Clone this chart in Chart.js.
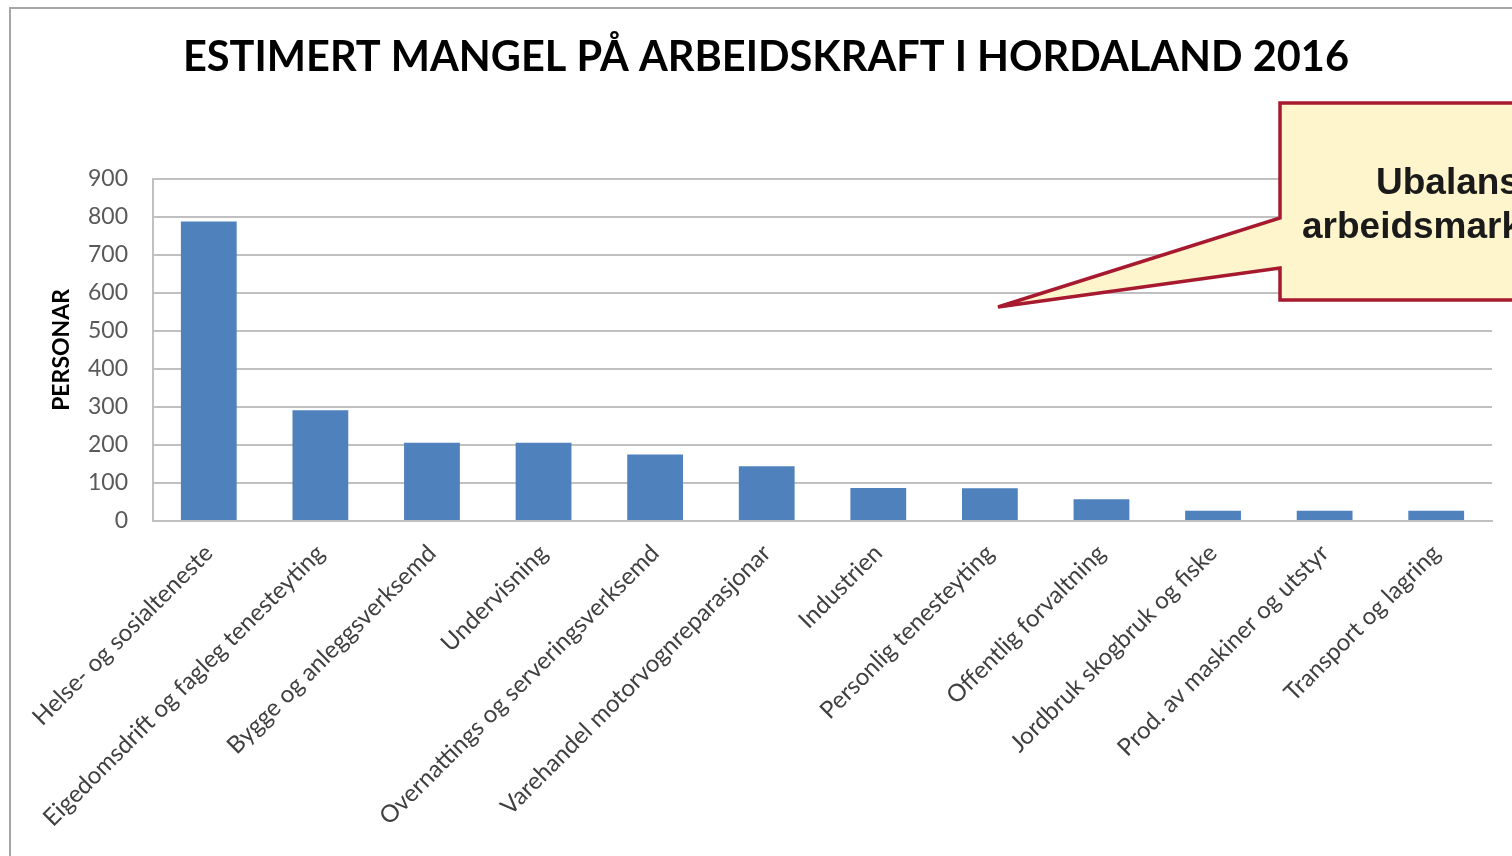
<!DOCTYPE html>
<html>
<head>
<meta charset="utf-8">
<script src="https://cdn.jsdelivr.net/npm/chart.js@4/dist/chart.umd.min.js"></script>
<style>
  html, body { margin: 0; padding: 0; background: #fff; }
  #wrap { width: 1512px; height: 856px; }
</style>
</head>
<body>
<div id="wrap"><canvas id="mangelChart"></canvas></div>
<script>
// DATA
const categories = [
    'Helse- og sosialteneste',
    'Eigedomsdrift og fagleg tenesteyting',
    'Bygge og anleggsverksemd',
    'Undervisning',
    'Overnattings og serveringsverksemd',
    'Varehandel motorvognreparasjonar',
    'Industrien',
    'Personlig tenesteyting',
    'Offentlig forvaltning',
    'Jordbruk skogbruk og fiske',
    'Prod. av maskiner og utstyr',
    'Transport og lagring'
];
const personar = [788, 291, 206, 206, 175, 144, 87, 86, 57, 27, 27, 27];
const yTicks = [0, 100, 200, 300, 400, 500, 600, 700, 800, 900];
const chartTitle = 'ESTIMERT MANGEL PÅ ARBEIDSKRAFT I HORDALAND 2016';
const yTitle = 'PERSONAR';
const calloutLines = ['Ubalanse i', 'arbeidsmarknaden'];

// FRAME + CALLOUT
const extras = {
    id: 'extras',
    afterLayout(chart) {
        // title sits a bit right of the canvas centre
        if (chart.titleBlock) {
            chart.titleBlock.left += 20;
            chart.titleBlock.right += 20;
        }
    },
    beforeDraw(chart) {
        const c = chart.ctx;
        c.save();
        c.strokeStyle = '#a6a6a6';
        c.lineWidth = 2;
        c.beginPath();
        c.moveTo(10, 860);
        c.lineTo(10, 8);
        c.lineTo(1520, 8);
        c.stroke();
        c.restore();
    },
    afterDraw(chart) {
        const c = chart.ctx;
        c.save();
        c.beginPath();
        c.moveTo(1280, 103);
        c.lineTo(1530, 103);
        c.lineTo(1530, 300);
        c.lineTo(1280, 300);
        c.lineTo(1280, 268);
        c.lineTo(998, 307);
        c.lineTo(1280, 218);
        c.closePath();
        c.fillStyle = '#fff5cc';
        c.fill();
        c.strokeStyle = '#a6192e';
        c.lineWidth = 3.5;
        c.stroke();
        c.fillStyle = '#1a1a1a';
        c.font = 'bold 37px "Liberation Sans", Arial, sans-serif';
        c.textAlign = 'left';
        c.fillText(calloutLines[0], 1376, 194);
        c.fillText(calloutLines[1], 1302, 238);
        c.restore();
    }
};

const ctx = document.getElementById('mangelChart');

new Chart(ctx, {
    type: 'bar',
    data: {
        labels: categories,
        datasets: [
            {
                label: 'Personar',
                data: personar,
                backgroundColor: '#4f81bd',
                borderWidth: 0,
                categoryPercentage: 1,
                barPercentage: 0.5
            }
        ]
    },
    options: {
        responsive: true,
        maintainAspectRatio: false,
        animation: false,
        layout: { padding: { left: 0, right: 20, top: 0, bottom: 0 } },
        plugins: {
            legend: { display: false },
            tooltip: { enabled: false },
            title: {
                display: true,
                text: chartTitle,
                color: '#000',
                font: { family: 'Lato', size: 41.5, weight: 'bold' },
                padding: { top: 33, bottom: 96 }
            }
        },
        scales: {
            y: {
                min: 0,
                max: 900,
                afterBuildTicks: (scale) => { scale.ticks = yTicks.map(v => ({ value: v })); },
                afterFit: (scale) => { scale.width = 153; },
                ticks: {
                    color: '#595959',
                    font: { family: 'Lato', size: 23 },
                    padding: 25
                },
                grid: { color: '#c0c0c0', lineWidth: 2, drawTicks: false },
                border: { color: '#c0c0c0', width: 2 },
                title: {
                    display: true,
                    text: yTitle,
                    color: '#000',
                    font: { family: 'Lato', size: 23, weight: 'bold' },
                    padding: { top: 48, bottom: 0 }
                }
            },
            x: {
                afterFit: (scale) => { scale.height = 335; },
                ticks: {
                    color: '#404040',
                    font: { family: 'Lato', size: 24 },
                    minRotation: 45,
                    maxRotation: 45,
                    autoSkip: false,
                    padding: 18
                },
                grid: { display: false, drawTicks: false },
                border: { color: '#c0c0c0', width: 2 }
            }
        }
    },
    plugins: [extras]
});
</script>
</body>
</html>
